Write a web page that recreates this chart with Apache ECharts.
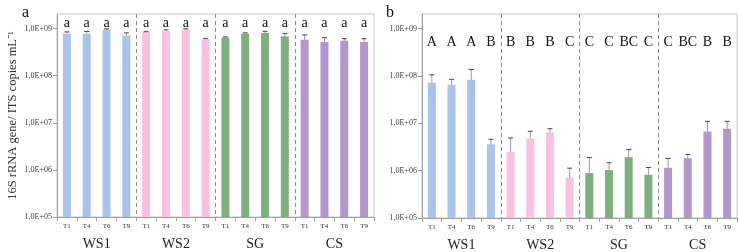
<!DOCTYPE html>
<html lang="en">
<head>
    <meta charset="UTF-8">
    <title>16S / ITS copies</title>
    <script src="https://cdn.jsdelivr.net/npm/echarts@6/dist/echarts.min.js"></script>
    <style>
        body { margin: 0; background: #fff; }
        #chart { width: 739px; height: 252px; }
    </style>
</head>
<body>
    <div id="chart"></div>
    <script>
        // data
        var groups = ['WS1', 'WS2', 'SG', 'CS'];
        var times = ['T1', 'T4', 'T6', 'T9'];
        var groupColors = ['#a9c4eb', '#fbbfdf', '#7eb07e', '#b496cd'];

        // panel a
        var meanA = [7.8e8, 7.8e8, 9.5e8, 7.1e8,  8.5e8, 8.9e8, 9.4e8, 6.0e8,  6.4e8, 7.8e8, 8.1e8, 6.9e8,  5.8e8, 5.2e8, 5.5e8, 5.2e8];
        var sdA   = [0.7e8, 0.9e8, 0.35e8, 1.0e8, 0.1e8, 0.5e8, 0.45e8, 0.2e8, 0.26e8, 0.3e8, 0.66e8, 0.9e8, 1.5e8, 1.2e8, 0.6e8, 0.9e8];
        var lettersA = ['a','a','a','a', 'a','a','a','a', 'a','a','a','a', 'a','a','a','a'];

        // panel b
        var meanB = [7.3e7, 6.5e7, 8.3e7, 3.6e6,  2.5e6, 4.8e6, 6.5e6, 7.1e5,  8.9e5, 1.03e6, 1.93e6, 8.2e5,  1.15e6, 1.84e6, 6.7e6, 7.7e6];
        var sdB   = [3.3e7, 2.0e7, 5.4e7, 1.0e6,  2.4e6, 2.0e6, 1.2e6, 4.2e5,  1.0e6, 4.4e5, 8.7e5, 3.5e5,  6.6e5, 3.6e5, 4.3e6, 3.3e6];
        var lettersB = ['A','A','A','B', 'B','B','B','C', 'C','C','BC','C', 'C','BC','B','B'];

        var decades = [1e5, 1e6, 1e7, 1e8, 1e9];

        var serif = 'Liberation Serif';
        var cats = [];
        groups.forEach(function () { times.forEach(function (t) { cats.push(t); }); });

        function barData(vals) {
            return vals.map(function (v, i) {
                return { value: v, itemStyle: { color: groupColors[Math.floor(i / times.length)] } };
            });
        }

        function errData(means, sds) {
            return means.map(function (m, i) { return [i, m, m + sds[i]]; });
        }

        function renderErr(params, api) {
            var lo = api.coord([api.value(0), api.value(1)]);
            var hi = api.coord([api.value(0), api.value(2)]);
            return {
                type: 'group',
                children: [
                    { type: 'line', shape: { x1: lo[0], y1: lo[1], x2: hi[0], y2: hi[1] },
                      style: { stroke: '#9a9a9a', lineWidth: 1 } },
                    { type: 'line', shape: { x1: hi[0] - 2.5, y1: hi[1], x2: hi[0] + 2.5, y2: hi[1] },
                      style: { stroke: '#444', lineWidth: 1 } }
                ]
            };
        }

        function expLabel(v) {
            var e = Math.round(Math.log10(v));
            return '1,0E+' + (e < 10 ? '0' : '') + e;
        }

        var grids = [
            { left: 57, top: 14, width: 317, height: 203 },
            { left: 422, top: 14, width: 315, height: 205.5 }
        ];
        var letterMargin = [2, 21];
        var letterSets = [lettersA, lettersB];

        var xAxes = [], yAxes = [];
        grids.forEach(function (g, k) {
            xAxes.push({
                type: 'category', gridIndex: k, data: cats, position: 'bottom',
                axisLine: { lineStyle: { color: '#a0a0a0' } },
                axisTick: { show: true, interval: 0, length: 4, lineStyle: { color: '#a0a0a0' } },
                axisLabel: { interval: 0, fontFamily: serif, fontSize: 7, color: '#333', margin: 6 }
            });
            xAxes.push({
                type: 'category', gridIndex: k, data: groups, position: 'bottom',
                axisLine: { show: false }, axisTick: { show: false },
                axisLabel: { fontFamily: serif, fontSize: 14, color: '#222', margin: 20 },
                splitLine: { show: true, showMinLine: false, showMaxLine: false,
                             lineStyle: { color: '#8a8a8a', type: [4, 3], width: 1 } }
            });
            xAxes.push({
                type: 'category', gridIndex: k, data: letterSets[k], position: 'top',
                axisLine: { show: false }, axisTick: { show: false },
                axisLabel: { inside: true, interval: 0, fontFamily: serif, fontSize: 14, color: '#111',
                             margin: letterMargin[k] }
            });
            yAxes.push({
                type: 'log', gridIndex: k, logBase: 10, min: 1e5, max: 2.04e9,
                axisLine: { show: true, lineStyle: { color: '#a0a0a0' } },
                axisTick: { show: true, length: 4, lineStyle: { color: '#a0a0a0' }, customValues: decades },
                axisLabel: { fontFamily: serif, fontSize: 8, color: '#404040', margin: 5,
                             customValues: decades, formatter: expLabel },
                splitLine: { show: false },
                name: k === 0 ? '16S rRNA gene/ ITS copies mL\u207B\u00B9' : '',
                nameLocation: 'middle', nameGap: 38, nameRotate: 90,
                nameTextStyle: { fontFamily: serif, fontSize: 12.5, color: '#333' }
            });
        });

        var chart = echarts.init(document.getElementById('chart'));

        var option = {
            animation: false,
            title: [
                { text: 'a', left: 17, top: 0, textStyle: { fontFamily: serif, fontSize: 16, fontWeight: 'normal', color: '#111' } },
                { text: 'b', left: 381, top: 0, textStyle: { fontFamily: serif, fontSize: 16, fontWeight: 'normal', color: '#111' } }
            ],
            grid: grids.map(function (g) {
                return Object.assign({ show: true, borderColor: '#c8c8c8', borderWidth: 1 }, g);
            }),
            xAxis: xAxes,
            yAxis: yAxes,
            series: [
                { type: 'bar', xAxisIndex: 0, yAxisIndex: 0, barWidth: 8, data: barData(meanA) },
                { type: 'custom', xAxisIndex: 0, yAxisIndex: 0, renderItem: renderErr, data: errData(meanA, sdA), z: 3 },
                { type: 'bar', xAxisIndex: 3, yAxisIndex: 1, barWidth: 8, data: barData(meanB) },
                { type: 'custom', xAxisIndex: 3, yAxisIndex: 1, renderItem: renderErr, data: errData(meanB, sdB), z: 3 }
            ]
        };

        chart.setOption(option);
    </script>
</body>
</html>
